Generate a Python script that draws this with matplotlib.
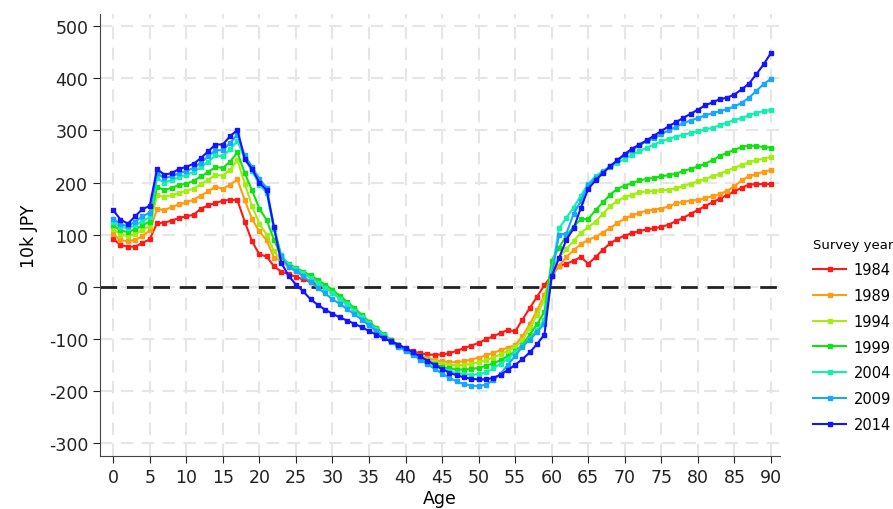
import matplotlib
matplotlib.use("Agg")
import matplotlib.pyplot as plt

plt.rcParams["axes.unicode_minus"] = False

ages = list(range(0, 91))

y1984 = [92, 80, 77, 77, 84, 91, 122, 123, 127, 132, 135, 138, 150, 156, 161, 165, 167, 166, 125, 87,
         62, 58, 39, 29, 24, 19, 14, 9, 4, -2, -10, -21, -33, -45, -57, -69, -81, -93, -103, -112,
         -119, -124, -128, -130, -131, -130, -128, -123, -118, -113, -108, -101, -95, -89, -83, -86, -63, -41, -19, 3,
         21, 40, 44, 50, 57, 44, 57, 71, 83, 92, 98, 103, 107, 110, 112, 115, 119, 126, 132, 140,
         147, 155, 162, 169, 176, 183, 190, 196, 197, 197, 197]
y1989 = [101, 90, 87, 90, 97, 108, 149, 147, 153, 158, 162, 167, 175, 183, 192, 188, 196, 206, 166, 130,
         106, 89, 56, 49, 38, 30, 24, 17, 9, 0, -10, -21, -33, -45, -57, -69, -81, -93, -103, -112,
         -120, -127, -133, -137, -141, -143, -145, -145, -143, -140, -136, -132, -127, -122, -117, -112, -95, -72, -45, -16,
         20, 40, 57, 70, 82, 90, 96, 104, 113, 122, 131, 137, 142, 146, 148, 150, 154, 160, 163, 165,
         167, 170, 174, 178, 184, 193, 204, 212, 216, 221, 224]
y1994 = [111, 100, 97, 101, 109, 117, 176, 172, 176, 180, 184, 188, 197, 205, 215, 213, 225, 243, 198, 155,
         121, 100, 68, 50, 41, 33, 26, 19, 11, 2, -8, -19, -31, -43, -55, -67, -80, -92, -103, -112,
         -121, -128, -134, -140, -145, -148, -150, -151, -150, -148, -145, -141, -136, -130, -123, -116, -102, -80, -54, -25,
         35, 56, 72, 88, 104, 114, 125, 140, 155, 165, 172, 177, 181, 183, 184, 185, 186, 189, 193, 198,
         202, 207, 212, 217, 223, 228, 234, 239, 243, 246, 249]
y1999 = [118, 108, 105, 110, 118, 125, 192, 185, 190, 195, 198, 203, 212, 220, 230, 228, 240, 258, 218, 185,
         150, 128, 90, 58, 44, 36, 29, 22, 13, 4, -6, -17, -29, -41, -54, -67, -79, -91, -102, -112,
         -121, -129, -136, -143, -149, -154, -157, -159, -159, -158, -156, -152, -147, -141, -133, -124, -112, -92, -72, -48,
         50, 75, 98, 115, 130, 130, 147, 162, 177, 188, 194, 199, 204, 207, 209, 212, 214, 217, 222, 226,
         231, 236, 243, 251, 257, 263, 268, 271, 270, 268, 267]
y2004 = [124, 115, 112, 118, 126, 133, 208, 200, 205, 210, 215, 220, 230, 240, 252, 250, 264, 280, 245, 222,
         196, 180, 110, 60, 42, 34, 26, 17, 8, -2, -12, -23, -34, -46, -58, -70, -82, -93, -104, -113,
         -122, -129, -137, -145, -152, -158, -162, -166, -168, -169, -168, -164, -157, -148, -138, -126, -114, -100, -83, -64,
         28, 112, 132, 152, 175, 198, 212, 222, 230, 238, 245, 253, 260, 267, 273, 279, 284, 288, 292, 295,
         299, 302, 305, 310, 315, 320, 324, 329, 334, 337, 339]
y2009 = [130, 120, 116, 125, 135, 142, 218, 208, 212, 218, 222, 228, 238, 250, 262, 262, 276, 292, 252, 230,
         207, 190, 115, 58, 38, 30, 20, 9, -2, -13, -24, -33, -43, -53, -63, -74, -85, -96, -106, -115,
         -123, -131, -140, -149, -158, -167, -175, -182, -187, -190, -191, -188, -180, -167, -150, -133, -115, -102, -87, -71,
         22, 100, 102, 140, 165, 195, 208, 220, 232, 243, 252, 262, 272, 279, 285, 293, 300, 307, 314, 319,
         324, 329, 333, 337, 341, 346, 353, 363, 376, 389, 399]
y2014 = [147, 129, 121, 135, 149, 155, 226, 215, 218, 226, 230, 236, 247, 260, 273, 273, 289, 301, 245, 226,
         200, 185, 114, 46, 21, 4, -9, -24, -35, -44, -52, -59, -65, -71, -78, -85, -92, -99, -105, -111,
         -118, -126, -134, -142, -150, -158, -165, -170, -174, -177, -178, -178, -175, -169, -160, -150, -139, -126, -110, -92,
         20, 55, 90, 112, 152, 188, 204, 218, 231, 243, 255, 265, 273, 281, 290, 299, 308, 316, 324, 332,
         340, 348, 354, 360, 363, 369, 379, 390, 408, 427, 449]

years = ["1984", "1989", "1994", "1999", "2004", "2009", "2014"]
series = [y1984, y1989, y1994, y1999, y2004, y2009, y2014]
colors = ["#ff1a1a", "#ff9c12", "#a4ec12", "#14e014", "#14eeae", "#1aa6ff", "#1414ff"]

fig = plt.figure(figsize=(8.93, 5.10), dpi=100)
ax = fig.add_axes([0.112, 0.104, 0.762, 0.866])

for yr, vals, col in zip(years, series, colors):
    ax.plot(ages, vals, color=col, lw=1.5, marker="s", ms=2.8, label=yr)

# null-linie
ax.axhline(0, color="#222222", lw=2, ls=(0, (6, 3.5)), zorder=1)

ax.set_xlim(-1.8, 91.3)
ax.set_ylim(-325, 523)
ax.set_xticks(range(0, 91, 5))
ax.set_yticks(range(-300, 501, 100))
ax.grid(True, color="#e6e6e6", lw=1.5, ls=(0, (6, 4)), zorder=0)
ax.set_axisbelow(True)

ax.spines["top"].set_visible(False)
ax.spines["right"].set_visible(False)
ax.spines["left"].set_color("#444444")
ax.spines["bottom"].set_color("#444444")
ax.tick_params(labelsize=12.5, colors="#222222", length=5)
ax.set_xlabel("Age", fontsize=12.5, labelpad=2)
ax.set_ylabel("10k JPY", fontsize=12.5, labelpad=8)

leg = fig.legend(loc="upper left", bbox_to_anchor=(0.902, 0.545), frameon=False,
                 title="Survey year", fontsize=10.5, title_fontsize=9.5,
                 handlelength=2.3, handletextpad=0.5, labelspacing=0.74,
                 borderpad=0, alignment="left")

fig.savefig("out.png", dpi=100)
